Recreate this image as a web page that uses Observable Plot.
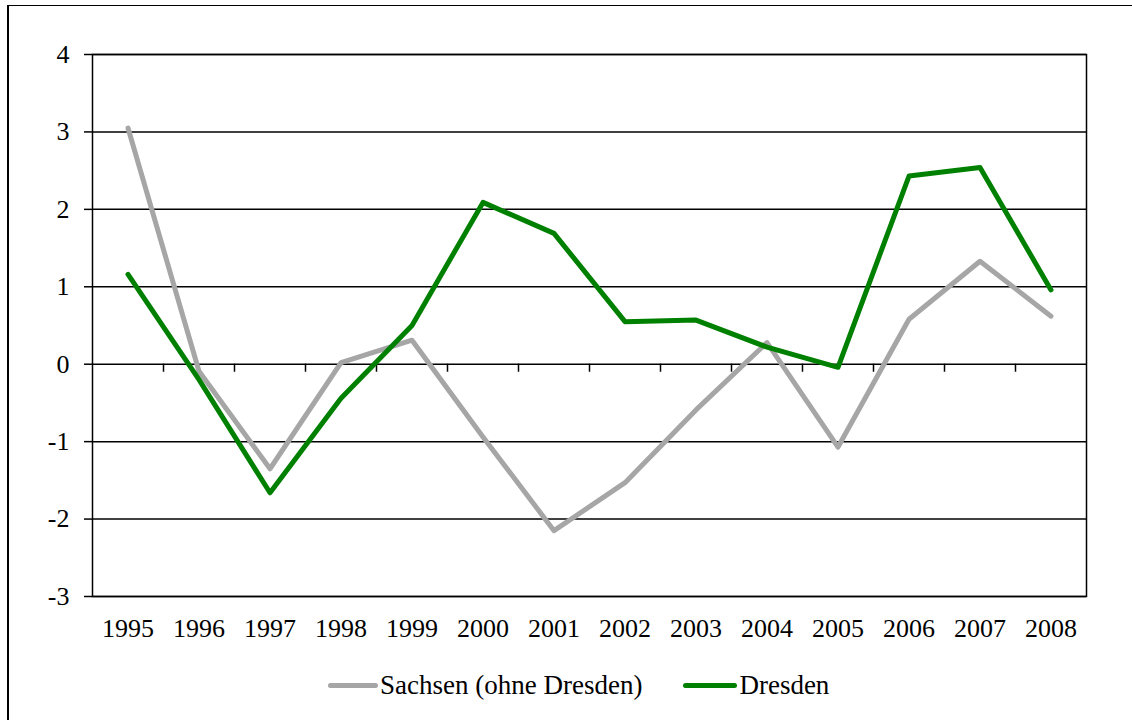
<!DOCTYPE html>
<html>
<head>
<meta charset="utf-8">
<script src="https://cdn.jsdelivr.net/npm/d3@7"></script>
<script src="https://cdn.jsdelivr.net/npm/@observablehq/plot@0.6"></script>
<style>
  body { margin: 0; background: #fff; overflow: hidden; }
  #wrap { position: relative; width: 1132px; height: 720px; overflow: hidden; font-family: "Liberation Serif", "Times New Roman", serif; }
  #border { position: absolute; left: 7px; top: 5px; width: 2000px; height: 2000px; border-left: 2px solid #000; border-top: 1.5px solid #000; }
  #chart { position: absolute; left: 0; top: 0; }
  #legend { position: absolute; left: 0; top: 660px; width: 1132px; height: 50px; display: flex; align-items: center; font-size: 27px; color: #000; }
  .sw { display: inline-block; height: 5px; border-radius: 3px; }
</style>
</head>
<body>
<div id="wrap">
  <div id="border"></div>
  <div id="chart"></div>
  <div id="legend"></div>
</div>
<script>
const years = [1995, 1996, 1997, 1998, 1999, 2000, 2001, 2002, 2003, 2004, 2005, 2006, 2007, 2008]
const sachsen = [3.05, -0.09, -1.35, 0.02, 0.31, -0.94, -2.15, -1.53, -0.59, 0.28, -1.07, 0.58, 1.33, 0.62]
const dresden = [1.16, -0.2, -1.66, -0.44, 0.50, 2.09, 1.69, 0.55, 0.57, 0.22, -0.04, 2.43, 2.54, 0.96]
const yTicks = [-3, -2, -1, 0, 1, 2, 3, 4]
const seriesNames = ['Sachsen (ohne Dresden)', 'Dresden']
const seriesColors = ['#A6A6A6', '#008000']

// long table for the lines
const rows = [
  ...years.map((yr, i) => ({year: yr, value: sachsen[i], serie: seriesNames[0]})),
  ...years.map((yr, i) => ({year: yr, value: dresden[i], serie: seriesNames[1]}))
]
// category boundaries on the zero line
const bounds = years.slice(0, -1).map(yr => yr + 0.5)

const font = '"Liberation Serif", "Times New Roman", serif'

let chart = Plot.plot({
  width: 1132,
  height: 660,
  marginLeft: 92,
  marginRight: 46,
  marginTop: 54,
  marginBottom: 64,
  style: {fontFamily: font, fontSize: '26px', color: '#000', background: 'transparent'},
  x: {domain: [years[0] - 0.5, years[years.length - 1] + 0.5]},
  y: {domain: [yTicks[0], yTicks[yTicks.length - 1]]},
  color: {domain: seriesNames, range: seriesColors},
  marks: [
    Plot.ruleY(yTicks, {stroke: '#000', strokeWidth: 1.5}),
    Plot.frame({stroke: '#000', strokeWidth: 1.5}),
    Plot.ruleX(bounds, {y1: 0, y2: 0, insetTop: 8, stroke: '#000', strokeWidth: 1.5}),
    Plot.axisY({ticks: yTicks, tickSize: 8, tickPadding: 15, fontSize: 26, strokeWidth: 1.5, label: null, tickFormat: d => String(d)}),
    Plot.axisX({ticks: years, tickSize: 0, tickPadding: 22, fontSize: 26, tickFormat: 'd', label: null}),
    Plot.line(rows, {x: 'year', y: 'value', z: 'serie', stroke: 'serie', strokeWidth: 5, strokeLinecap: 'round', strokeLinejoin: 'round'})
  ]
})

d3.select('#chart').append(() => chart)

// legend below the plot
const legend = d3.select('#legend')
legend.append('span').style('width', '328px')
seriesNames.forEach((name, i) => {
  legend.append('span').attr('class', 'sw').style('width', i ? '54px' : '50px').style('background', seriesColors[i])
  legend.append('span').text(name).style('margin-left', '2px').style('margin-right', i ? '0' : '41px')
})
</script>
</body>
</html>
